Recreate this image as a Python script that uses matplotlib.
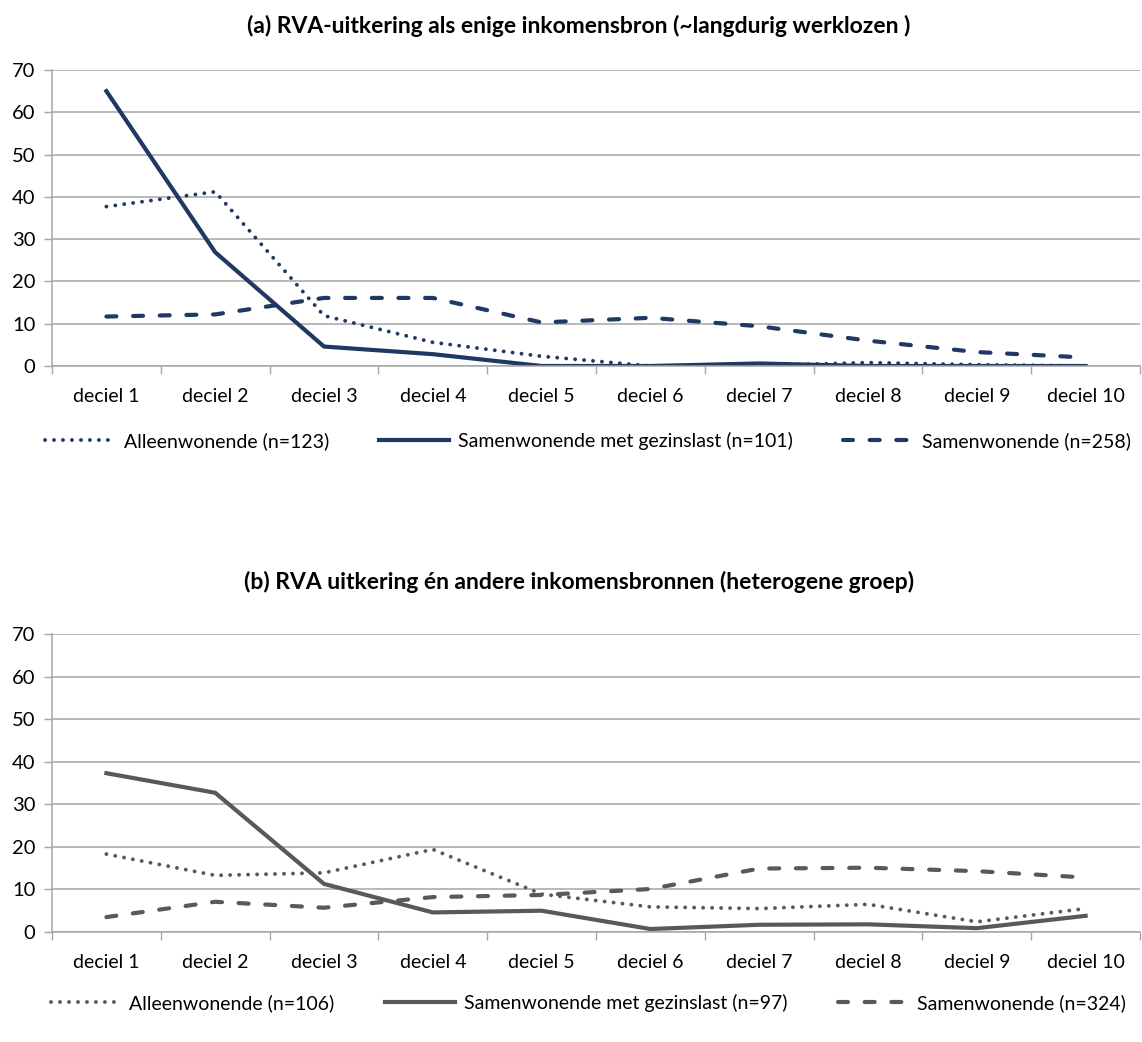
import matplotlib.pyplot as plt
import matplotlib.ticker as mticker

plt.rcParams['font.family'] = ['Lato', 'DejaVu Sans']

deciles = ['deciel 1', 'deciel 2', 'deciel 3', 'deciel 4', 'deciel 5',
           'deciel 6', 'deciel 7', 'deciel 8', 'deciel 9', 'deciel 10']

# (a) RVA-uitkering als enige inkomensbron
a_alleen = [37.7, 41.2, 11.9, 5.6, 2.3, 0.0, 0.1, 0.8, 0.3, 0.0]
a_gezin = [65.0, 26.9, 4.6, 2.8, 0.0, 0.0, 0.6, 0.0, 0.0, 0.0]
a_samen = [11.7, 12.2, 16.1, 16.1, 10.3, 11.4, 9.4, 6.0, 3.3, 2.0]
a_labels = ['Alleenwonende (n=123)', 'Samenwonende met gezinslast (n=101)', 'Samenwonende (n=258)']

# (b) RVA uitkering en andere inkomensbronnen
b_alleen = [18.3, 13.3, 13.9, 19.4, 8.9, 5.9, 5.5, 6.5, 2.4, 5.5]
b_gezin = [37.3, 32.7, 11.3, 4.6, 5.0, 0.7, 1.7, 1.8, 0.9, 3.8]
b_samen = [3.5, 7.1, 5.7, 8.2, 8.7, 10.1, 14.9, 15.1, 14.3, 12.8]
b_labels = ['Alleenwonende (n=106)', 'Samenwonende met gezinslast (n=97)', 'Samenwonende (n=324)']

W, H = 1142, 1042
fig = plt.figure(figsize=(W / 100, H / 100), dpi=100)
grid_col = '#A6A6A6'


def draw_panel(ax, series, labels, color, title, title_y, leg_y):
    x = range(len(deciles))
    dot = ax.plot(x, series[0], color=color, lw=2.8, linestyle=(0, (0.01, 2.3)),
                  dash_capstyle='round', label=labels[0])[0]
    sol = ax.plot(x, series[1], color=color, lw=3.0, solid_joinstyle='miter',
                  label=labels[1])[0]
    das = ax.plot(x, series[2], color=color, lw=3.0, linestyle=(0, (2.4, 4.0)),
                  dash_capstyle='round', label=labels[2])[0]
    ax.set_xlim(-0.5, 9.5)
    ax.set_ylim(0, 70)
    ax.yaxis.set_major_locator(mticker.MultipleLocator(10))
    ax.set_xticks(list(x))
    ax.set_xticklabels(deciles)
    ax.set_xticks([i - 0.5 for i in range(11)], minor=True)
    ax.tick_params(axis='x', which='major', length=0, pad=16, labelsize=14)
    ax.tick_params(axis='x', which='minor', length=6, color=grid_col, width=1)
    ax.tick_params(axis='y', length=6, color=grid_col, width=1, pad=6, labelsize=14.5)
    ax.grid(axis='y', color=grid_col, lw=1.1)
    ax.set_axisbelow(True)
    for s in ['top', 'right']:
        ax.spines[s].set_visible(False)
    for s in ['left', 'bottom']:
        ax.spines[s].set_color(grid_col)
        ax.spines[s].set_linewidth(1.1)
    fig.text(579 / W, 1 - title_y / H, title, ha='center', va='center',
             fontsize=16.5, fontweight='bold', color='black')
    fig.legend(handles=[dot, sol, das], loc='center', ncol=3,
               bbox_to_anchor=(588 / W, 1 - leg_y / H), frameon=False,
               fontsize=14, handlelength=3.6, handletextpad=0.45,
               columnspacing=2.6)


ax1 = fig.add_axes([52 / W, 1 - 366 / H, 1088 / W, 296 / H])
draw_panel(ax1, [a_alleen, a_gezin, a_samen], a_labels, '#1F3864',
           '(a) RVA-uitkering als enige inkomensbron (~langdurig werklozen )', 26, 441)

ax2 = fig.add_axes([52 / W, 1 - 932 / H, 1088 / W, 298 / H])
draw_panel(ax2, [b_alleen, b_gezin, b_samen], b_labels, '#595959',
           '(b) RVA uitkering én andere inkomensbronnen (heterogene groep)', 582, 1003)

fig.savefig('out.png', dpi=100)
